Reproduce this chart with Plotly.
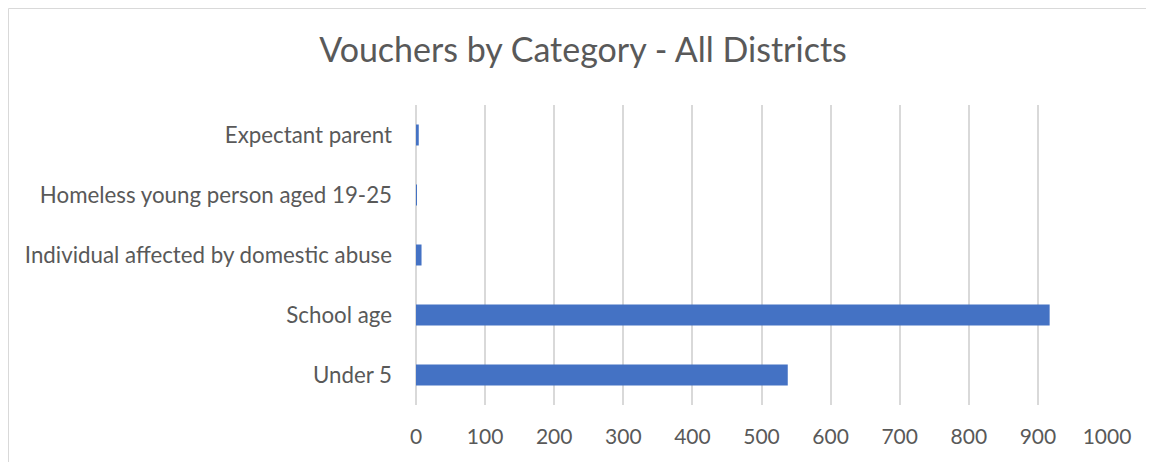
import plotly.graph_objects as go

categories = ["Under 5", "School age", "Individual affected by domestic abuse",
              "Homeless young person aged 19-25", "Expectant parent"]
values = [538, 917, 8, 1, 4]
x_ticks = [0, 100, 200, 300, 400, 500, 600, 700, 800, 900, 1000]

fig = go.Figure(go.Bar(
    y=categories, x=values, orientation="h",
    marker=dict(color="#4472C4", line=dict(width=0)),
))

OFF = 8  # page body margin
W, H = 1154, 462
L, T = 416 - OFF, 105 - OFF
pw, ph = 691, 300
R = W - L - pw
B = H - T - ph

fig.update_layout(
    width=W, height=H,
    margin=dict(l=L, r=R, t=T, b=B),
    paper_bgcolor="white", plot_bgcolor="white",
    bargap=0.65,
    showlegend=False,
    font=dict(family="Lato, Open Sans, sans-serif", color="#595959", size=22),
    title=dict(text="Vouchers by Category - All Districts", x=(583 - OFF) / W, xanchor="center",
               y=1 - (50 - OFF) / H, yanchor="middle",
               font=dict(size=34, color="#595959")),
    xaxis=dict(range=[0, 1000], tickvals=x_ticks, showgrid=True, gridcolor="#D9D9D9",
               gridwidth=1.5, zeroline=True, zerolinecolor="#D9D9D9", zerolinewidth=1.5,
               showline=False, ticks="", ticklabelstandoff=17, tickfont=dict(size=21)),
    yaxis=dict(categoryorder="array", categoryarray=categories, showgrid=False,
               zeroline=False, showline=False, ticks="", ticklabelstandoff=23,
               tickfont=dict(size=22.3)),
    shapes=[dict(type="rect", xref="paper", yref="paper",
                 x0=-(L - 0.5) / pw, x1=(W + 20 - L) / pw,
                 y0=-(H + 20 - T - ph) / ph, y1=1 + (T - 0.5) / ph,
                 line=dict(color="#D9D9D9", width=1), fillcolor="rgba(0,0,0,0)",
                 layer="below")],
)
fig.write_html("out.html")
